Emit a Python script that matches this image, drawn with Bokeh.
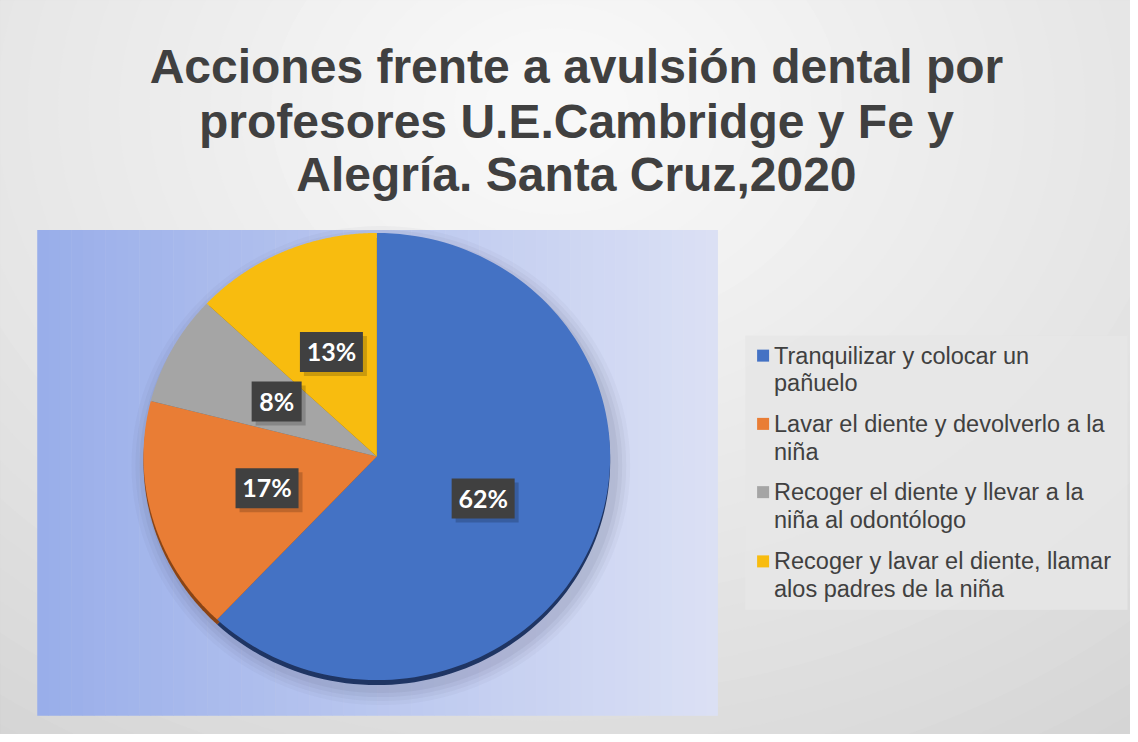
import numpy as np
from bokeh.plotting import figure
from bokeh.models import Range1d
from bokeh.core.properties import value
from bokeh.embed import file_html
from bokeh.resources import INLINE

# ---- data ----
categories = [
    "Tranquilizar y colocar un pañuelo",
    "Lavar el diente y devolverlo a la niña",
    "Recoger el diente y llevar a la niña al odontólogo",
    "Recoger y lavar el diente, llamar alos padres de la niña",
]
legend_lines = [
    ["Tranquilizar y colocar un", "pañuelo"],
    ["Lavar el diente y devolverlo a la", "niña"],
    ["Recoger el diente y llevar a la", "niña al odontólogo"],
    ["Recoger y lavar el diente, llamar", "alos padres de la niña"],
]
percent = [62, 17, 8, 13]
colors = ["#4472C4", "#E97D35", "#A5A5A5", "#F8BC0F"]
dark_colors = ["#1F3563", "#8A4415", "#5E5E5E", "#8F6A00"]
title_lines = [
    "Acciones frente a avulsión dental por",
    "profesores U.E.Cambridge y Fe y",
    "Alegría. Santa Cruz,2020",
]

W, H = 1130, 734
SX, SY = W / 1138, H / 742


def px(X):
    return X * SX


def py(Y):
    return H - Y * SY


p = figure(width=W, height=H, output_backend="svg", toolbar_location=None,
           x_range=Range1d(0, W), y_range=Range1d(0, H),
           min_border=0, match_aspect=False)
p.axis.visible = False
p.grid.visible = False
p.outline_line_color = "#BFBFBF"
p.background_fill_color = "#C2C2C2"
p.border_fill_color = "white"

# ---- chart-area radial gradient background ----
n = 40
cx_bg, cy_bg = px(560), py(110)
for i in range(n):
    t = i / (n - 1)
    r = 1050 * (1 - t) + 60 * t
    g = int(194 + (248 - 194) * t ** 0.7)
    col = "#%02x%02x%02x" % (g, g, g)
    p.ellipse(x=cx_bg, y=cy_bg, width=2 * r * 1.2, height=2 * r * 0.95,
              fill_color=col, line_color=None)

# ---- plot-area linear gradient ----
x0, x1 = px(37), px(722)
yb, yt = py(723), py(232)
nb = 60
c_left = np.array([0x99, 0xAE, 0xEA])
c_right = np.array([0xDC, 0xE1, 0xF5])
edges = np.linspace(x0, x1, nb + 1)
band_cols = []
for i in range(nb):
    t = (i + 0.5) / nb
    c = (c_left * (1 - t) + c_right * t).astype(int)
    band_cols.append("#%02x%02x%02x" % tuple(c))
p.quad(left=edges[:-1], right=edges[1:] + 0.5, bottom=yb, top=yt,
       fill_color=band_cols, line_color=None)

# ---- pie (slightly elliptical, as in tilted 3-D view) ----
cx, cy = px(379), py(461)
RX, RY = 235 * SX, 226 * SY
frac = np.array(percent) / sum(percent)
ends = np.pi / 2 - 2 * np.pi * np.cumsum(frac)
starts = np.concatenate([[np.pi / 2], ends[:-1]])


def slice_pts(a0, a1, dy=0.0):
    th = np.linspace(a0, a1, 120)
    xs = np.concatenate([[cx], cx + RX * np.cos(th)])
    ys = np.concatenate([[cy + dy], cy + dy + RY * np.sin(th)])
    return list(xs), list(ys)


# soft shadow
for k, a in enumerate([0.04, 0.05, 0.06, 0.07]):
    p.ellipse(x=cx + 4, y=cy - 9, width=2 * (RX + 16 - 4 * k),
              height=2 * (RY + 16 - 4 * k),
              fill_color="#4a4a6a", fill_alpha=a, line_color=None)

rim = [slice_pts(a0, a1, -5) for a0, a1 in zip(starts, ends)]
p.patches(xs=[r[0] for r in rim], ys=[r[1] for r in rim],
          fill_color=dark_colors, line_color=None)
top = [slice_pts(a0, a1) for a0, a1 in zip(starts, ends)]
p.patches(xs=[r[0] for r in top], ys=[r[1] for r in top],
          fill_color=colors, line_color=None)

# ---- data labels ----
mids = (starts + ends) / 2
lx = cx + 0.49 * RX * np.cos(mids)
ly = cy + 0.51 * RY * np.sin(mids)
labels = ["%d%%" % v for v in percent]
bw = [63 if v >= 10 else 50 for v in percent]
p.rect(x=lx + 4, y=ly - 4, width=bw, height=40, fill_color="#000000",
       fill_alpha=0.18, line_color=None)
p.rect(x=lx, y=ly, width=bw, height=40, fill_color="#404040", line_color=None)
p.text(x=lx, y=ly + 1, text=labels, text_align="center", text_baseline="middle",
       text_color="white", text_font=value("Lato"), text_font_style="bold",
       text_font_size="25px")

# ---- title ----
title_y = [67, 122, 176]
for t, yy in zip(title_lines, title_y):
    p.text(x=[px(580)], y=[py(yy)], text=[t], text_align="center",
           text_baseline="middle", text_color="#404040",
           text_font=value("Liberation Sans"), text_font_style="bold",
           text_font_size="48px")

# ---- legend ----
p.quad(left=px(750), right=px(1135), bottom=py(616), top=py(339),
       fill_color="#E6E6E6", fill_alpha=0.85, line_color=None)
item_y = [359, 428, 497, 567]
for lines, col, yy in zip(legend_lines, colors, item_y):
    p.rect(x=[px(768)], y=[py(yy)], width=12, height=12,
           fill_color=col, line_color=None)
    for j, ln in enumerate(lines):
        p.text(x=[px(779)], y=[py(yy + 28 * j)], text=[ln], text_align="left",
               text_baseline="middle", text_color="#404040",
               text_font=value("Liberation Sans"), text_font_size="23.5px")

open("out.html", "w").write(file_html(p, INLINE))
